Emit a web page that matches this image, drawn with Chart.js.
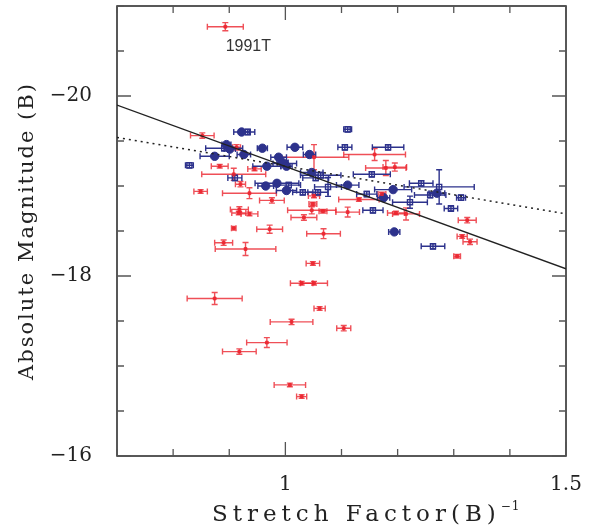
<!DOCTYPE html>
<html>
<head>
<meta charset="utf-8">
<script src="https://cdn.jsdelivr.net/npm/chart.js@4.4.1/dist/chart.umd.min.js"></script>
<style>
  html, body { margin: 0; padding: 0; background: #fff; }
</style>
</head>
<body>
<canvas id="chart" width="599" height="531"></canvas>
<script>
// axis ticks
const xTickValues = [1, 1.5];
const yTickValues = [-20, -18, -16];

// red points (with x and y errors)
const redX = [0.893, 0.852, 0.913, 1.051, 1.159, 1.179, 1.195, 0.883, 0.908, 0.945, 0.920, 0.849,
  0.936, 0.976, 1.051, 1.049, 1.047, 1.067, 1.033, 1.111, 1.131, 1.172, 1.197, 1.215, 0.918, 0.917,
  0.936, 0.908, 0.972, 1.068, 0.890, 0.929, 1.049, 1.324, 1.315, 1.329, 1.306, 1.029, 1.051, 0.874,
  1.061, 1.011, 1.104, 0.967, 0.918, 1.008, 1.029];
const redY = [-20.77, -19.56, -19.43, -19.32, -19.35, -19.20, -19.21, -19.22, -19.13, -19.19, -19.02, -18.94,
  -18.92, -18.84, -18.89, -18.80, -18.73, -18.72, -18.65, -18.71, -18.85, -18.91, -18.70, -18.69, -18.74, -18.70,
  -18.69, -18.53, -18.52, -18.47, -18.37, -18.30, -18.14, -18.62, -18.44, -18.38, -18.22, -17.92, -17.92, -17.75,
  -17.64, -17.49, -17.42, -17.26, -17.16, -16.79, -16.66];
const redXErr = [0.032, 0.021, 0.007, 0.062, 0.055, 0.036, 0.021, 0.015, 0.057, 0.012, 0.009, 0.012,
  0.048, 0.022, 0.010, 0.007, 0.043, 0.007, 0.023, 0.021, 0.036, 0.007, 0.015, 0.024, 0.016, 0.0125,
  0.015, 0.004, 0.023, 0.030, 0.016, 0.054, 0.012, 0.016, 0.009, 0.0125, 0.006, 0.020, 0.024, 0.049,
  0.010, 0.038, 0.0125, 0.036, 0.030, 0.028, 0.009];
const redYErr = [0.045, 0.03, 0.03, 0.14, 0.067, 0.083, 0.045, 0.02, 0.067, 0.02, 0.03, 0.02,
  0.06, 0.03, 0.02, 0.02, 0.04, 0.02, 0.03, 0.055, 0.02, 0.02, 0.02, 0.067, 0.03, 0.02,
  0.02, 0.02, 0.045, 0.055, 0.03, 0.072, 0.02, 0.03, 0.02, 0.03, 0.02, 0.02, 0.02, 0.067,
  0.02, 0.03, 0.03, 0.055, 0.03, 0.02, 0.02];

// blue filled circles
const circX = [0.922, 0.895, 0.901, 0.959, 1.017, 1.043, 0.874, 0.926, 0.988, 0.995, 1.002, 0.967,
  1.047, 0.965, 0.985, 1.002, 1.111, 1.192, 1.270, 1.175, 1.194];
const circY = [-19.60, -19.46, -19.41, -19.42, -19.43, -19.35, -19.33, -19.35, -19.32, -19.26, -19.22, -19.22,
  -19.15, -19.00, -19.03, -18.95, -19.01, -18.96, -18.92, -18.87, -18.49];
const circXErr = [0.014, 0.008, 0.010, 0.009, 0.014, 0.011, 0.026, 0.012, 0.014, 0.010, 0.010, 0.025,
  0.020, 0.014, 0.039, 0.018, 0.020, 0.033, 0.014, 0.011, 0.010];

// blue open squares
const sqX = [0.933, 1.111, 0.891, 1.106, 1.183, 0.829, 0.999, 1.063, 1.154, 1.054, 0.910, 1.006,
  1.076, 1.242, 1.274, 1.031, 1.058, 1.145, 1.258, 1.313, 1.222, 1.156, 1.295, 1.263];
const sqY = [-19.60, -19.63, -19.42, -19.43, -19.43, -19.23, -19.25, -19.12, -19.13, -19.09, -19.09, -19.01,
  -18.99, -19.03, -18.99, -18.93, -18.93, -18.91, -18.90, -18.87, -18.82, -18.73, -18.75, -18.33];
const sqXErr = [0.0125, 0.007, 0.033, 0.0125, 0.028, 0.007, 0.021, 0.036, 0.033, 0.023, 0.0125, 0.021,
  0.024, 0.021, 0.0625, 0.018, 0.018, 0.018, 0.028, 0.008, 0.031, 0.018, 0.012, 0.021];
const sqYErr = [0.03, 0.03, 0.03, 0.03, 0.03, 0.03, 0.03, 0.03, 0.03, 0.03, 0.03, 0.03,
  0.105, 0.03, 0.19, 0.03, 0.03, 0.03, 0.03, 0.03, 0.067, 0.03, 0.03, 0.03];

// fitted lines
const fitX = [0.7, 1.5];
const solidFitY = [-19.90, -18.08];
const dottedFitY = [-19.54, -18.69];

// text label next to the outlier
const noteText = '1991T';
const noteX = 0.934;
const noteY = -20.55;

const RED = 'rgba(235, 35, 45, 0.8)';
const BLUE = 'rgb(45, 50, 140)';
const INK = '#222';

function toPoints(xs, ys) {
  return xs.map((x, i) => ({ x: x, y: ys[i] }));
}

// error bars drawn through the chart's own scales
const errorBars = {
  id: 'errorBars',
  beforeDatasetsDraw(chart) {
    const { ctx, scales: { x, y } } = chart;
    const cap = 3;
    chart.data.datasets.forEach((ds) => {
      if (!ds.errX) return;
      ctx.save();
      ctx.strokeStyle = ds.errColor;
      ctx.lineWidth = 1.4;
      ds.data.forEach((p, i) => {
        const px = x.getPixelForValue(p.x);
        const py = y.getPixelForValue(p.y);
        const ex = ds.errX[i] || 0;
        const ey = ds.errY ? ds.errY[i] : 0;
        ctx.beginPath();
        if (ex) {
          const x1 = x.getPixelForValue(p.x - ex);
          const x2 = x.getPixelForValue(p.x + ex);
          ctx.moveTo(x1, py); ctx.lineTo(x2, py);
          ctx.moveTo(x1, py - cap); ctx.lineTo(x1, py + cap);
          ctx.moveTo(x2, py - cap); ctx.lineTo(x2, py + cap);
        }
        if (ey) {
          const y1 = y.getPixelForValue(p.y - ey);
          const y2 = y.getPixelForValue(p.y + ey);
          ctx.moveTo(px, y1); ctx.lineTo(px, y2);
          ctx.moveTo(px - cap, y1); ctx.lineTo(px + cap, y1);
          ctx.moveTo(px - cap, y2); ctx.lineTo(px + cap, y2);
        }
        ctx.stroke();
      });
      ctx.restore();
    });
  }
};

// frame, inward ticks, axis titles and the 1991T note
const frameAndTitles = {
  id: 'frameAndTitles',
  afterDraw(chart) {
    const { ctx, chartArea: a, scales: { x, y } } = chart;
    ctx.save();
    ctx.strokeStyle = INK;
    ctx.lineWidth = 1.5;
    ctx.strokeRect(a.left, a.top, a.right - a.left, a.bottom - a.top);

    ctx.strokeStyle = '#555';
    ctx.lineWidth = 1.3;
    ctx.beginPath();
    for (let v = 0.7; v <= 1.5001; v += 0.1) {
      const px = x.getPixelForValue(v);
      const major = Math.abs(v - 1) < 1e-6 || Math.abs(v - 1.5) < 1e-6;
      const len = major ? 14 : 7;
      ctx.moveTo(px, a.bottom); ctx.lineTo(px, a.bottom - len);
      ctx.moveTo(px, a.top); ctx.lineTo(px, a.top + len);
    }
    for (let v = -21; v <= -15.999; v += 0.5) {
      const py = y.getPixelForValue(v);
      const major = yTickValues.some(t => Math.abs(t - v) < 1e-6);
      const len = major ? 14 : 7;
      ctx.moveTo(a.left, py); ctx.lineTo(a.left + len, py);
      ctx.moveTo(a.right, py); ctx.lineTo(a.right - len, py);
    }
    ctx.stroke();

    // axis titles
    ctx.fillStyle = INK;
    ctx.letterSpacing = '5px';
    ctx.font = '23px "DejaVu Serif", serif';
    ctx.textBaseline = 'alphabetic';
    ctx.textAlign = 'left';
    const xTitle = 'Stretch Factor(B)';
    const tx = 212, ty = 521;
    ctx.fillText(xTitle, tx, ty);
    const w = ctx.measureText(xTitle).width;
    ctx.letterSpacing = '1px';
    ctx.font = '12px "DejaVu Serif", serif';
    ctx.fillText('\u22121', tx + w, ty - 11);

    ctx.letterSpacing = '2px';
    ctx.font = '21px "DejaVu Serif", serif';
    ctx.translate(33, (a.top + a.bottom) / 2);
    ctx.rotate(-Math.PI / 2);
    ctx.textAlign = 'center';
    ctx.fillText('Absolute Magnitude (B)', 0, 0);
    ctx.restore();

    ctx.save();
    ctx.fillStyle = '#333';
    ctx.font = '16px "Liberation Sans Narrow", "Liberation Sans", sans-serif';
    ctx.textAlign = 'center';
    ctx.textBaseline = 'middle';
    ctx.fillText(noteText, x.getPixelForValue(noteX), y.getPixelForValue(noteY));
    ctx.restore();
  }
};

new Chart(document.getElementById('chart'), {
  type: 'scatter',
  data: {
    datasets: [
      {
        label: 'fit',
        data: toPoints(fitX, solidFitY),
        showLine: true,
        borderColor: INK,
        borderWidth: 1.3,
        pointRadius: 0
      },
      {
        label: 'fit (dotted)',
        data: toPoints(fitX, dottedFitY),
        showLine: true,
        borderColor: INK,
        borderWidth: 1.5,
        borderDash: [2, 4],
        pointRadius: 0
      },
      {
        label: 'red',
        data: toPoints(redX, redY),
        errX: redXErr,
        errY: redYErr,
        errColor: RED,
        pointStyle: 'rect',
        pointRadius: 2,
        backgroundColor: RED,
        borderColor: RED,
        borderWidth: 1
      },
      {
        label: 'circles',
        data: toPoints(circX, circY),
        errX: circXErr,
        errColor: BLUE,
        pointStyle: 'circle',
        pointRadius: 4.2,
        backgroundColor: BLUE,
        borderColor: BLUE,
        borderWidth: 1
      },
      {
        label: 'squares',
        data: toPoints(sqX, sqY),
        errX: sqXErr,
        errY: sqYErr,
        errColor: BLUE,
        pointStyle: 'rect',
        pointRadius: 3.6,
        backgroundColor: 'rgba(255,255,255,0)',
        borderColor: BLUE,
        borderWidth: 1.4
      }
    ]
  },
  options: {
    responsive: false,
    animation: false,
    events: [],
    layout: { padding: { top: 6, right: 33, left: 0, bottom: 0 } },
    plugins: {
      legend: { display: false },
      tooltip: { enabled: false }
    },
    scales: {
      x: {
        type: 'linear',
        min: 0.7,
        max: 1.5,
        grid: { display: false },
        border: { display: false },
        afterFit: (scale) => { scale.height = 75; scale.paddingLeft = 0; scale.paddingRight = 0; },
        afterBuildTicks: (scale) => { scale.ticks = xTickValues.map(v => ({ value: v })); },
        ticks: {
          padding: 9,
          maxRotation: 0,
          autoSkip: false,
          color: INK,
          font: { family: '"DejaVu Serif", serif', size: 20 },
          callback: (v) => String(v)
        }
      },
      y: {
        type: 'linear',
        min: -21,
        max: -16,
        reverse: true,
        grid: { display: false },
        border: { display: false },
        afterFit: (scale) => { scale.width = 117; scale.paddingTop = 0; scale.paddingBottom = 0; },
        afterBuildTicks: (scale) => { scale.ticks = yTickValues.map(v => ({ value: v })); },
        ticks: {
          padding: 17,
          autoSkip: false,
          color: INK,
          font: { family: '"DejaVu Serif", serif', size: 20 },
          callback: (v) => '\u2212' + Math.abs(v)
        }
      }
    }
  },
  plugins: [errorBars, frameAndTitles]
});
</script>
</body>
</html>
